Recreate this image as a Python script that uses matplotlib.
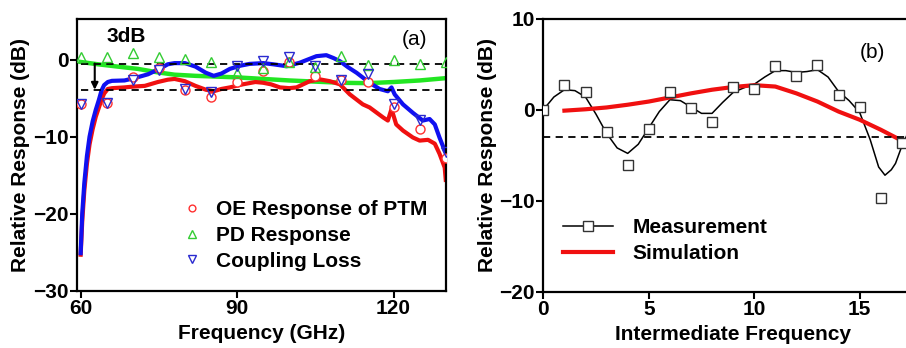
import numpy as np
import matplotlib
matplotlib.use("Agg")
import matplotlib.pyplot as plt
from matplotlib.lines import Line2D

plt.rcParams["font.family"] = ["Liberation Sans", "DejaVu Sans"]
plt.rcParams["font.weight"] = "bold"

# ---- panel (a) data ----
f_mark = [60, 65, 70, 75, 80, 85, 90, 95, 100, 105, 110, 115, 120, 125, 130]
oe_mark = [-5.8, -5.6, -2.2, -1.1, -3.9, -4.9, -2.9, -1.5, -0.3, -2.15, -2.7, -2.9, -6.1, -9.0, -12.7]
pd_mark = [0.4, 0.4, 0.8, 0.3, 0.1, -0.3, -1.7, -1.1, -0.35, -1.0, 0.5, -0.65, 0.0, -0.6, -0.3]
cl_mark = [-5.7, -5.6, -2.7, -1.3, -3.8, -4.2, -0.8, -0.15, 0.4, -0.8, -2.6, -1.85, -5.8, -7.8, -12.0]

f_blue = [60, 60.3, 60.7, 61.2, 61.7, 62.3, 62.9, 63.5, 64, 64.5, 65.2, 66, 68.4, 70.3, 72.9,
          75.4, 76.7, 78, 80, 82, 84, 85.5, 87, 88.6, 90.5, 92.4, 95, 96.9, 99.5, 102, 103.5,
          105.2, 107.1, 108.5, 109.7, 111.3, 112.9, 115.4, 117.3, 118.9, 119.6, 120.2, 121.8,
          123.7, 125.6, 126.9, 127.9, 128.8, 129.8, 130]
cl_line = [-25.1, -20, -16, -12.5, -10, -8, -6.5, -5.2, -4.0, -3.3, -2.9, -2.75, -2.7, -2.4, -1.9,
           -1.1, -0.6, -0.45, -0.45, -0.9, -1.7, -2.1, -1.8, -1.2, -0.8, -0.55, -0.45, -0.6, -0.85,
           -0.4, 0.0, 0.45, 0.58, 0.2, -0.2, -1.0, -1.7, -3.0, -3.8, -4.1, -3.6, -4.5, -5.8,
           -6.9, -7.9, -7.7, -8.4, -10.1, -11.8, -12.1]

f_red = [60, 60.3, 60.7, 61.2, 61.7, 62.3, 62.9, 63.5, 64, 64.5, 65.2, 66, 68.4, 70, 72.3,
         74.8, 76.7, 78, 80, 82, 84, 85.5, 87, 88.6, 91.1, 93.5, 95, 96.5, 98.2, 100, 101.4,
         103.9, 105.8, 107.8, 109.7, 111.6, 114.1, 115.4, 118, 118.9, 119.6, 120.5, 121.8,
         123.7, 125, 126.6, 127.9, 128.8, 129.8, 130]
oe_line = [-25.3, -21, -17, -13.5, -11, -9, -7.4, -6.2, -5.2, -4.4, -3.8, -3.7, -3.6, -3.5, -3.4,
           -2.9, -2.6, -2.5, -2.8, -3.4, -3.9, -4.1, -3.8, -3.6, -3.2, -2.9, -3.0, -3.2, -3.6,
           -3.7, -3.6, -2.8, -2.55, -2.8, -3.2, -4.5, -5.8, -6.2, -7.5, -7.9, -6.4, -8.4, -9.2,
           -10.1, -10.5, -10.4, -10.9, -12.2, -14.0, -15.6]

f_green = [60, 63.3, 67.1, 71, 74.8, 78, 82, 86, 90, 95, 100, 105, 110, 115, 120, 125, 130]
pd_line = [-0.3, -0.6, -0.9, -1.2, -1.65, -1.95, -2.1, -2.2, -2.3, -2.5, -2.7, -2.85, -3.0,
           -3.05, -2.9, -2.7, -2.4]

lvl_top, lvl_bot = -0.5, -3.9

# ---- panel (b) data ----
if_mark = list(range(18))
meas = [0.0, 2.7, 1.9, -2.5, -6.1, -2.1, 2.0, 0.15, -1.35, 2.55, 2.3, 4.8, 3.7, 4.9, 1.6, 0.3, -9.7, -3.7]

if_fit = [0, 0.5, 1.0, 1.5, 2.0, 2.5, 3.0, 3.5, 4.0, 4.5, 5.0, 5.5, 6.0, 6.5, 7.0, 7.5, 8.0,
          8.5, 9.0, 9.5, 10.0, 10.5, 11.0, 11.5, 12.0, 12.5, 13.0, 13.5, 14.0, 14.5, 15.0,
          15.5, 15.9, 16.2, 16.5, 16.7, 17.0, 17.3]
meas_fit = [0.0, 1.4, 2.2, 2.1, 1.4, -0.5, -2.6, -4.2, -4.8, -3.8, -2.0, -0.2, 1.1, 1.0, 0.3,
            -0.4, -0.4, 0.8, 1.9, 2.4, 2.8, 3.6, 4.3, 4.3, 4.1, 4.2, 4.4, 3.6, 2.0, 1.0, -0.3,
            -3.3, -6.3, -7.2, -6.6, -5.9, -4.0, -2.5]

if_sim = [1, 2, 3, 4, 5, 6, 7, 8, 9, 10, 11, 12, 13, 14, 15, 16, 17, 17.5]
sim = [-0.1, 0.05, 0.25, 0.55, 0.9, 1.35, 1.8, 2.2, 2.5, 2.7, 2.55, 1.8, 0.9, -0.2, -1.1, -2.2, -3.4, -4.0]

fs = 15

fig = plt.figure(figsize=(9.06, 3.48), dpi=100)
ax1 = fig.add_axes([0.085, 0.164, 0.407, 0.782])
ax2 = fig.add_axes([0.5997, 0.162, 0.419, 0.784])

# (a)
ax1.plot(f_green, pd_line, color="#22e622", lw=3.2)
ax1.plot(f_red, oe_line, color="#f01010", lw=3)
ax1.plot(f_blue, cl_line, color="#1010f0", lw=3)
ax1.plot([60, 130], [lvl_top, lvl_top], "k", lw=1.3, dashes=(4, 3))
ax1.plot([60, 130], [lvl_bot, lvl_bot], "k", lw=1.3, dashes=(4, 3))
ax1.plot(f_mark, oe_mark, "o", color="#ff3030", mfc="white", ms=6.5, mew=1, zorder=4,
         label="OE Response of PTM")
ax1.plot(f_mark, pd_mark, "^", color="#33cc33", mfc="none", ms=7, mew=1, zorder=5,
         label="PD Response")
ax1.plot(f_mark, cl_mark, "v", color="#2a2ad0", mfc="none", ms=7, mew=1, zorder=5,
         label="Coupling Loss")
ax1.annotate("", xy=(62.7, lvl_bot), xytext=(62.7, lvl_top),
             arrowprops=dict(arrowstyle="-|>", color="k", lw=1.5, mutation_scale=10,
                             shrinkA=0, shrinkB=0))
ax1.text(0.133, 0.934, "3dB", transform=ax1.transAxes, ha="center", va="center",
         fontsize=fs, fontweight="bold")
ax1.text(0.916, 0.923, "(a)", transform=ax1.transAxes, ha="center", va="center",
         fontsize=fs, fontweight="normal")
ax1.set_xlim(59.3, 130)
ax1.set_ylim(-30, 5.3)
ax1.set_xticks([60, 90, 120])
ax1.set_yticks([-30, -20, -10, 0])
ax1.set_xlabel("Frequency (GHz)", fontsize=fs, fontweight="bold", labelpad=4)
ax1.set_ylabel("Relative Response (dB)", fontsize=fs, fontweight="bold", labelpad=2)
ax1.legend(loc="upper left", bbox_to_anchor=(0.262, 0.365), frameon=False, fontsize=fs,
           handlelength=1.0, handletextpad=0.65, labelspacing=0.33, borderaxespad=0,
           markerscale=0.75)

# (b)
ax2.plot(if_fit, meas_fit, color="k", lw=1.1)
ax2.plot(if_sim, sim, color="#f01010", lw=3)
ax2.axhline(-3, color="k", lw=1.3, dashes=(4, 3))
ax2.plot(if_mark, meas, "s", color="#333333", mfc="white", ms=7, mew=1, zorder=4)
ax2.text(0.868, 0.875, "(b)", transform=ax2.transAxes, ha="center", va="center",
         fontsize=fs, fontweight="normal")
ax2.set_xlim(0, 18)
ax2.set_ylim(-20, 10)
ax2.set_xticks([0, 5, 10, 15])
ax2.set_yticks([-20, -10, 0, 10])
ax2.set_xlabel("Intermediate Frequency", fontsize=fs, fontweight="bold", labelpad=4)
ax2.set_ylabel("Relative Response (dB)", fontsize=fs, fontweight="bold", labelpad=2)
h_meas = Line2D([], [], color="k", lw=1.1, marker="s", mfc="white", mec="#333333", ms=6.5)
h_sim = Line2D([], [], color="#f01010", lw=3)
ax2.legend([h_meas, h_sim], ["Measurement", "Simulation"], loc="upper left",
           bbox_to_anchor=(0.03, 0.3), frameon=False, fontsize=fs, handlelength=2.4,
           handletextpad=0.95, labelspacing=0.33, borderaxespad=0)

for ax in (ax1, ax2):
    for s in ax.spines.values():
        s.set_linewidth(1.6)
    ax.tick_params(direction="out", length=5, width=1.5, labelsize=fs, pad=1)
    for lab in ax.get_xticklabels() + ax.get_yticklabels():
        lab.set_fontweight("bold")

fig.savefig("out.png", dpi=100)
